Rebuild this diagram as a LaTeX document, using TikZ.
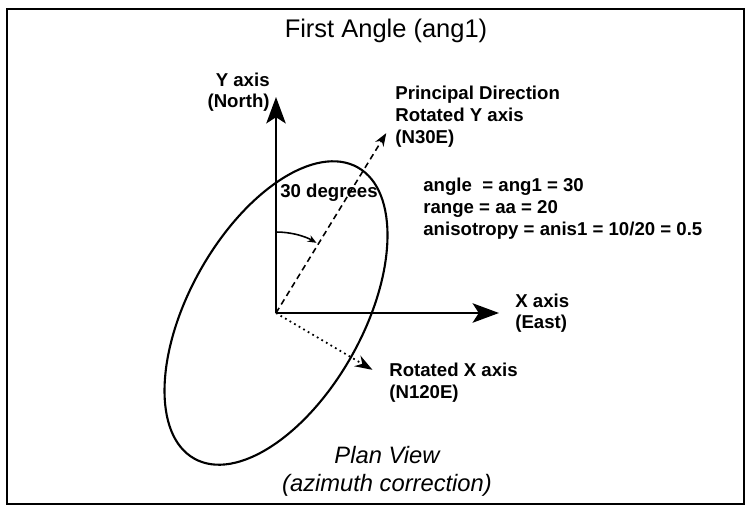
\documentclass[tikz,border=0pt]{standalone}
\usepackage{fontspec}
\setmainfont{Liberation Sans}
\usetikzlibrary{arrows.meta,positioning,calc}

\begin{document}
\begin{tikzpicture}[
    x=0.02cm, y=0.02cm,
    lbl/.style={font=\fontsize{10.6}{12.3}\selectfont\bfseries, inner sep=0pt, align=left},
    ttl/.style={font=\fontsize{14.5}{17}\selectfont, inner sep=0pt},
    capt/.style={font=\fontsize{13.5}{15.9}\selectfont\itshape, inner sep=0pt, align=center},
    axis/.style={-{Stealth[length=15pt,width=11pt,inset=3.5pt]}, line width=1.6pt},
    rot/.style={-{Stealth[length=7.5pt,width=5.5pt]}, line width=0.9pt, dash pattern=on 3.4pt off 2.3pt},
    rotx/.style={-{Stealth[length=10pt,width=7pt]}, line width=1pt, dash pattern=on 1pt off 2pt},
    turn/.style={-{Stealth[length=5pt,width=4pt]}, line width=0.9pt}
  ]
    \useasboundingbox (0,0) rectangle (749,511);
    \draw[line width=1.1pt] (7,7) rectangle (744,502);

    \node[ttl] (title) at (386,480) {First Angle (ang1)};

    \coordinate (O) at (276,198);
    \coordinate (ytip) at (276,414);
    \coordinate (xtip) at (499,198);
    \coordinate (ptip) at ($(O)+(58.5:211)$);
    \coordinate (qtip) at ($(O)+(-30.5:112)$);

    % anisotropy ellipse
    \draw[line width=1.2pt, rotate around={60.7:(O)}] (O) ellipse [x radius=3.34cm, y radius=1.74cm];

    % axes and rotated axes
    \draw[axis] (O) -- (ytip);
    \draw[axis] (O) -- (xtip);
    \draw[rot] (O) -- (ptip);
    \draw[rotx] (O) -- (qtip);
    \draw[turn] ($(O)+(90:81)$) arc[start angle=90, end angle=60, radius=1.62cm];

    \node[lbl, align=right, left=0.12cm of ytip, yshift=0.1cm] (ylab) {Y axis\\(North)};
    \node[lbl, right=0.32cm of xtip] (xlab) {X axis\\(East)};
    \node[lbl, anchor=north west] (plab) at (395,425) {Principal Direction\\Rotated Y axis\\(N30E)};
    \node[lbl, anchor=north west] (qlab) at (389,148) {Rotated X axis\\(N120E)};
    \node[lbl, anchor=west] (deg) at (280,318) {30 degrees};
    \node[lbl, anchor=north west] (info) at (423,333) {angle\ \ = ang1 = 30\\range = aa = 20\\anisotropy = anis1 = 10/20 = 0.5};

    \node[capt, anchor=north] (plan) at (387,65) {Plan View\\(azimuth correction)};
  \end{tikzpicture}
\end{document}
